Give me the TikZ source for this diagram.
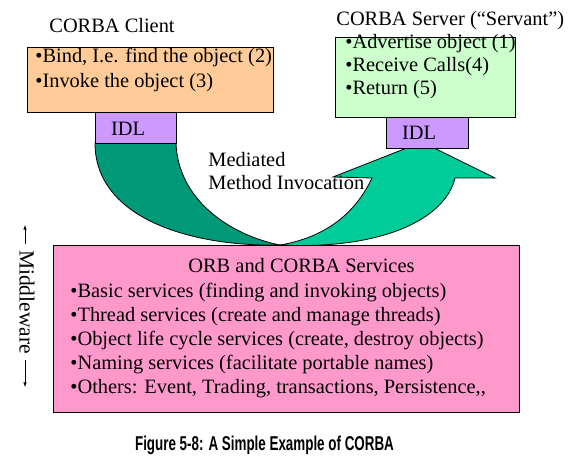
\documentclass[tikz,border=0pt]{standalone}
\usepackage{fontspec}
\setmainfont{Liberation Serif}
\newfontfamily\capfont{Liberation Sans}[FakeStretch=0.67]
\definecolor{clientfill}{HTML}{FFCC99}
\definecolor{serverfill}{HTML}{CCFFCC}
\definecolor{idlfill}{HTML}{CC99FF}
\definecolor{orbfill}{HTML}{FF99CC}
\definecolor{darkflow}{HTML}{009977}
\definecolor{lightflow}{HTML}{00CC99}
\tikzset{txt/.style={anchor=base west,inner sep=0pt,font=\fontsize{20.4}{24}\selectfont}}
\begin{document}
\begin{tikzpicture}[x=1pt,y=-1pt,line width=.8pt]
	\useasboundingbox(0,0)rectangle(579,462);
	\draw[fill=darkflow](95,143)..controls(95,220)and(195,247)..(280,245)..controls(230,235)and(178,200)..(176,143)--cycle;
	\draw[fill=lightflow](280,245)..controls(380,250)and(445,220)..(455,178)--(495,178)--(422,142)--(333,177)--(372,178)..controls(350,225)and(310,240)..(280,245)--cycle;
	\draw[fill=clientfill](27,47)rectangle(273,112);
	\draw[fill=idlfill](95,112)rectangle(176,143);
	\draw[fill=serverfill](335,37)rectangle(515,117);
	\draw[fill=idlfill](386,117)rectangle(468,148);
	\draw[fill=orbfill](53,245)rectangle(519,412);
	\node[txt](client)at(49,33){CORBA Client};
	\node[txt](bind)at(35,63){•Bind, I.e. find the object (2)};
	\node[txt](invoke)at(35,88){•Invoke the object (3)};
	\node[txt,anchor=base](idlc)at(128,136){IDL};
	\node[txt](server)at(336,26){CORBA Server (“Servant”)};
	\node[txt](advertise)at(345,49){•Advertise object (1)};
	\node[txt](receive)at(345,72){•Receive Calls(4)};
	\node[txt](return)at(345,95){•Return (5)};
	\node[txt,anchor=base](idls)at(419,140){IDL};
	\node[txt](mediated)at(208,167){Mediated};
	\node[txt](method)at(208,190){Method Invocation};
	\node[txt](orb)at(188,273){ORB and CORBA Services};
	\foreach \t [count=\i] in {{•Basic services (finding and invoking objects)},{•Thread services (create and manage threads)},{•Object life cycle services (create, destroy objects)},{•Naming services (facilitate portable names)},{•Others: Event, Trading, transactions, Persistence,{},}}
		\node[txt](orb\i)at(70,274+24*\i){\t};
	\node[txt,anchor=center,inner xsep=6pt,rotate=-90,font=\fontsize{21.5}{24}\selectfont](mw)at(27,302){Middleware};
	\coordinate(mwup)at(25,225);
	\coordinate(mwdown)at(25,387);
	\draw[-latex,line width=.6pt](mw.west-|mwup)--(mwup);
	\draw[-latex,line width=.6pt](mw.east-|mwdown)--(mwdown);
	\node[anchor=base,inner sep=0pt,font=\capfont\bfseries\fontsize{20}{22}\selectfont](caption)at(264.5,451){Figure 5-8: A Simple Example of CORBA};
\end{tikzpicture}
\end{document}
